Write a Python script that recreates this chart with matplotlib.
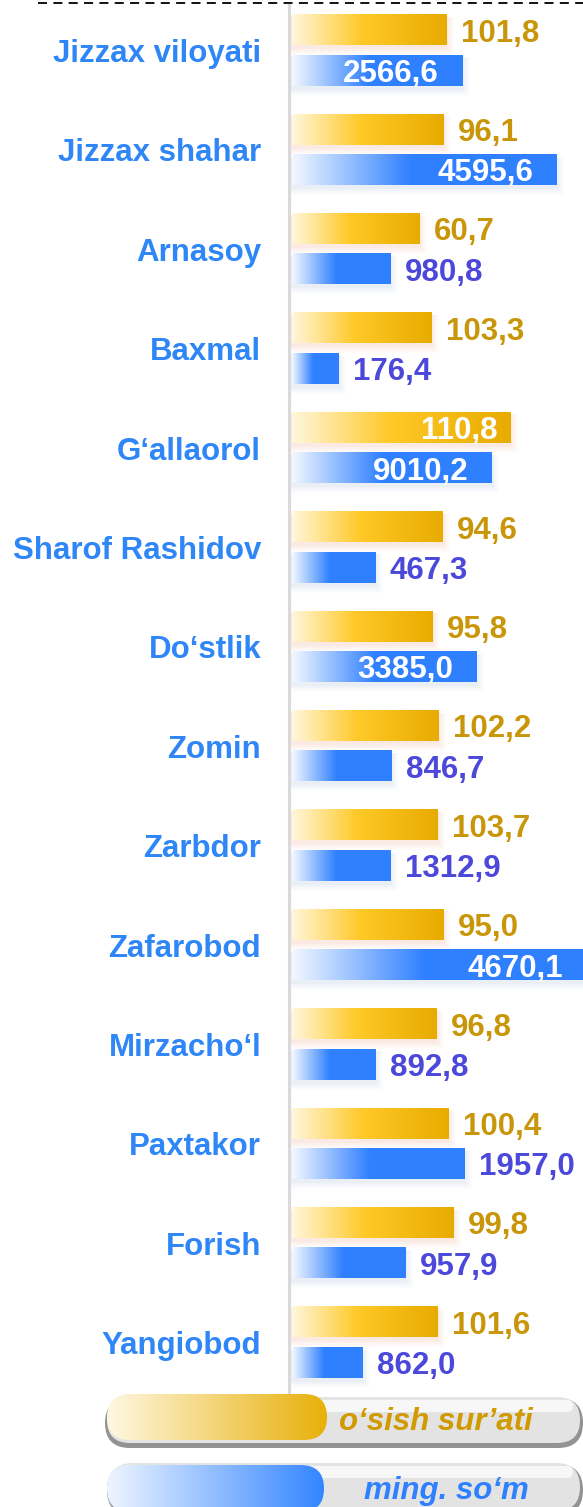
import numpy as np
import matplotlib
matplotlib.use('Agg')
import matplotlib.pyplot as plt
from matplotlib.colors import LinearSegmentedColormap
from matplotlib.patches import Rectangle, FancyBboxPatch
from matplotlib.lines import Line2D

plt.rcParams['font.family'] = ['Liberation Sans', 'DejaVu Sans']
plt.rcParams['font.weight'] = 'bold'

districts = ['Jizzax viloyati', 'Jizzax shahar', 'Arnasoy', 'Baxmal', 'G‘allaorol',
             'Sharof Rashidov', 'Do‘stlik', 'Zomin', 'Zarbdor', 'Zafarobod',
             'Mirzacho‘l', 'Paxtakor', 'Forish', 'Yangiobod']
growth = [101.8, 96.1, 60.7, 103.3, 110.8, 94.6, 95.8, 102.2, 103.7, 95.0, 96.8, 100.4, 99.8, 101.6]
amount = [2566.6, 4595.6, 980.8, 176.4, 9010.2, 467.3, 3385.0, 846.7, 1312.9, 4670.1, 892.8, 1957.0, 957.9, 862.0]
# bar lengths as drawn in the original picture (they are not proportional to the labels)
growth_bar = [155, 152, 128, 140, 219, 151, 141, 147, 146, 152, 145, 157, 162, 146]
amount_bar = [171, 265, 99, 47, 200, 84, 185, 100, 99, 295, 84, 173, 114, 71]
legend_labels = ['o‘sish sur’ati', 'ming. so‘m']

YEL_TXT = '#C9960A'
BLUE_TXT = '#4B48DA'
CAT_TXT = '#2F86F6'
FS = 22.5

yel_cmap = LinearSegmentedColormap.from_list('yel', [(0, '#FFF7DC'), (0.45, '#FFC928'), (1, '#E8AB00')])
blue_cmap = LinearSegmentedColormap.from_list('blu', [(0, '#F3F8FF'), (0.45, '#2F80FF'), (1, '#2F80FF')])


def fmt(v):
    return f"{v:.1f}".replace('.', ',')


def grad_bar(ax, length, yc, h, cmap, shadow):
    grad = np.linspace(0, 1, 256).reshape(1, -1)
    # soft glow behind the bar
    px = 1 / 99.4
    for k, a in [(8, 0.04), (6, 0.05), (4, 0.06), (2, 0.07)]:
        ax.add_patch(Rectangle((-1, yc - h / 2 + 2 * px), length + k, h + k * px,
                               facecolor=shadow, edgecolor='none', alpha=a, zorder=1))
    ax.imshow(grad, cmap=cmap, aspect='auto', interpolation='bilinear',
              extent=(0, length, yc + h / 2, yc - h / 2), zorder=2)


fig = plt.figure(figsize=(5.83, 15.07), dpi=100)
W, H = 583, 1507
pitch = 99.4
top_px, bot_px, left_px = 5, 1392, 289
ax = fig.add_axes([left_px / W, 1 - bot_px / H, 1 - left_px / W, (bot_px - top_px) / H])

n = len(districts)
h = 0.305
for i in range(n):
    yy = i - 0.206
    yb = i + 0.201
    grad_bar(ax, growth_bar[i], yy, h, yel_cmap, '#F0A080')
    grad_bar(ax, amount_bar[i], yb, h, blue_cmap, '#9FB6D8')
    if growth[i] > 105:
        ax.text(growth_bar[i] - 13, yy, fmt(growth[i]), ha='right', va='center_baseline',
                color='white', fontsize=FS, zorder=3)
    else:
        ax.text(growth_bar[i] + 14, yy, fmt(growth[i]), ha='left', va='center_baseline',
                color=YEL_TXT, fontsize=FS, zorder=3)
    if amount[i] > 2500:
        ax.text(amount_bar[i] - 24, yb, fmt(amount[i]), ha='right', va='center_baseline',
                color='white', fontsize=FS, zorder=3)
    else:
        ax.text(amount_bar[i] + 14, yb, fmt(amount[i]), ha='left', va='center_baseline',
                color=BLUE_TXT, fontsize=FS, zorder=3)

ax.set_xlim(-3, W - left_px - 3)
ax.set_ylim((bot_px - 50.5) / pitch, (top_px - 50.5) / pitch)
ax.set_yticks(range(n))
ax.set_yticklabels(districts, fontsize=FS, color=CAT_TXT, fontweight='bold')
ax.tick_params(axis='y', length=0, pad=20)
ax.set_xticks([])
for s in ['top', 'right', 'bottom']:
    ax.spines[s].set_visible(False)
ax.spines['left'].set_color('#D9D9D9')
ax.spines['left'].set_linewidth(2.2)
ax.patch.set_visible(False)

# overlay in pixel units for the dashed rule and the legend pills
lg = fig.add_axes([0, 0, 1, 1], zorder=-1)
lg.axis('off')
lg.add_line(Line2D([38, W], [3, 3], color='black', lw=1.3, linestyle=(0, (5, 3.5))))


def pill(x0, x1, y0, y1, **kw):
    hh = y1 - y0
    return FancyBboxPatch((x0, y0), x1 - x0, hh,
                          boxstyle=f"round,pad=0,rounding_size={hh / 2}", **kw)


legend_items = [
    (legend_labels[0], (105, 583, 1397, 1447), (107, 327, 1394, 1440),
     LinearSegmentedColormap.from_list('ly', ['#FFF8E2', '#E8B00A']), '#D09A00', 436, 1418),
    (legend_labels[1], (107, 583, 1463, 1515), (107, 324, 1465, 1512),
     LinearSegmentedColormap.from_list('lb', ['#EEF5FF', '#3385FF']), '#2F80FF', 446, 1488),
]
for label, outer, inner, cm, tcol, tx, ty in legend_items:
    x0, x1, y0, y1 = outer
    lg.add_patch(pill(x0, x1, y0 + 1, y1 + 1, facecolor='#808080', edgecolor='none', alpha=0.85, zorder=1))
    lg.add_patch(pill(x0 + 2, x1 - 3, y0, y1 - 4, facecolor='#E3E3E3', edgecolor='none', zorder=1.5))
    lg.add_patch(pill(x0 + 10, x1 - 10, y0 + 3, y0 + 15, facecolor='white', edgecolor='none',
                      alpha=0.75, zorder=1.6))
    ix0, ix1, iy0, iy1 = inner
    ip = pill(ix0, ix1, iy0, iy1, facecolor='none', edgecolor='none', zorder=2)
    lg.add_patch(ip)
    im = lg.imshow(np.linspace(0, 1, 256).reshape(1, -1), cmap=cm, aspect='auto',
                   extent=(ix0, ix1, iy1, iy0), interpolation='bilinear', zorder=3)
    im.set_clip_path(ip)
    lg.text(tx, ty, label, ha='center', va='center_baseline', color=tcol,
            fontsize=FS, fontstyle='italic', fontweight='bold', zorder=4)
lg.set_xlim(0, W)
lg.set_ylim(H, 0)

fig.savefig('out.png', dpi=100)
